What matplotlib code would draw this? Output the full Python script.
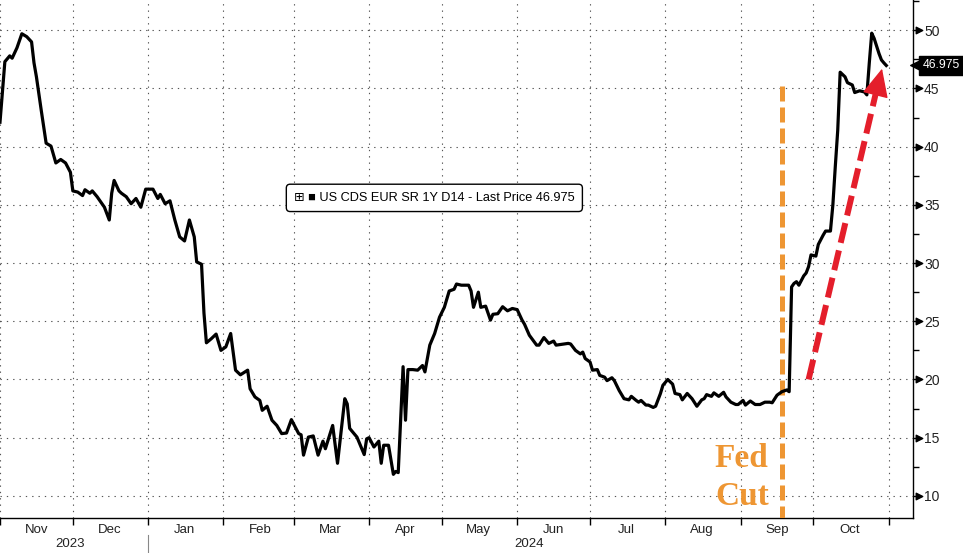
import pandas as pd
import matplotlib.pyplot as plt
import matplotlib.dates as mdates
import matplotlib.transforms as mtransforms
from matplotlib.ticker import MultipleLocator, NullFormatter

# US CDS EUR SR 1Y D14
dates = [
    "2023-11-01", "2023-11-03", "2023-11-05", "2023-11-06", "2023-11-08", "2023-11-10",
    "2023-11-12", "2023-11-14", "2023-11-15", "2023-11-16", "2023-11-18", "2023-11-20",
    "2023-11-22", "2023-11-24", "2023-11-26", "2023-11-28", "2023-11-30",
    "2023-12-01", "2023-12-03", "2023-12-05", "2023-12-06", "2023-12-08", "2023-12-09",
    "2023-12-11", "2023-12-14", "2023-12-16", "2023-12-17", "2023-12-18", "2023-12-20",
    "2023-12-21", "2023-12-23", "2023-12-25", "2023-12-27", "2023-12-29", "2023-12-31",
    "2024-01-03", "2024-01-05", "2024-01-06", "2024-01-08", "2024-01-10", "2024-01-12",
    "2024-01-14", "2024-01-16", "2024-01-18", "2024-01-20", "2024-01-21", "2024-01-23",
    "2024-01-24", "2024-01-25", "2024-01-27", "2024-01-29", "2024-01-31",
    "2024-02-02", "2024-02-04", "2024-02-06", "2024-02-08", "2024-02-11", "2024-02-12",
    "2024-02-14", "2024-02-16", "2024-02-17", "2024-02-19", "2024-02-21", "2024-02-23",
    "2024-02-25", "2024-02-27", "2024-02-29",
    "2024-03-03", "2024-03-04", "2024-03-05", "2024-03-07", "2024-03-09", "2024-03-11",
    "2024-03-13", "2024-03-14", "2024-03-17", "2024-03-19", "2024-03-22", "2024-03-23",
    "2024-03-24", "2024-03-27", "2024-03-30", "2024-03-31",
    "2024-04-01", "2024-04-03", "2024-04-05", "2024-04-06", "2024-04-07", "2024-04-09",
    "2024-04-11", "2024-04-12", "2024-04-13", "2024-04-15", "2024-04-16", "2024-04-17",
    "2024-04-19", "2024-04-21", "2024-04-23", "2024-04-24", "2024-04-26", "2024-04-28",
    "2024-04-30",
    "2024-05-02", "2024-05-04", "2024-05-06", "2024-05-07", "2024-05-09", "2024-05-12",
    "2024-05-13", "2024-05-14", "2024-05-16", "2024-05-17", "2024-05-19", "2024-05-21",
    "2024-05-22", "2024-05-24", "2024-05-26", "2024-05-28", "2024-05-30",
    "2024-06-01", "2024-06-03", "2024-06-04", "2024-06-06", "2024-06-09", "2024-06-10",
    "2024-06-12", "2024-06-14", "2024-06-16", "2024-06-17", "2024-06-22", "2024-06-23",
    "2024-06-25", "2024-06-27", "2024-06-28", "2024-06-29",
    "2024-07-01", "2024-07-02", "2024-07-04", "2024-07-05", "2024-07-07", "2024-07-08",
    "2024-07-10", "2024-07-11", "2024-07-13", "2024-07-15", "2024-07-17", "2024-07-18",
    "2024-07-20", "2024-07-21", "2024-07-22", "2024-07-24", "2024-07-25", "2024-07-27",
    "2024-07-28", "2024-07-30", "2024-07-31",
    "2024-08-02", "2024-08-04", "2024-08-05", "2024-08-07", "2024-08-08", "2024-08-10",
    "2024-08-12", "2024-08-14", "2024-08-16", "2024-08-17", "2024-08-18", "2024-08-20",
    "2024-08-21", "2024-08-23", "2024-08-25", "2024-08-26", "2024-08-28", "2024-08-30",
    "2024-08-31",
    "2024-09-02", "2024-09-03", "2024-09-05", "2024-09-07", "2024-09-09", "2024-09-11",
    "2024-09-13", "2024-09-14", "2024-09-16", "2024-09-18", "2024-09-20", "2024-09-21",
    "2024-09-22", "2024-09-23", "2024-09-24", "2024-09-25", "2024-09-27", "2024-09-28",
    "2024-09-29", "2024-09-30",
    "2024-10-02", "2024-10-03", "2024-10-05", "2024-10-06", "2024-10-08", "2024-10-09",
    "2024-10-10", "2024-10-11", "2024-10-12", "2024-10-14", "2024-10-15", "2024-10-17",
    "2024-10-18", "2024-10-20", "2024-10-22", "2024-10-23", "2024-10-24", "2024-10-25",
    "2024-10-26", "2024-10-28", "2024-10-29", "2024-10-30", "2024-10-31",
]
cds = [
    42.1, 47.3, 47.8, 47.6, 48.5, 49.7,
    49.45, 49.0, 47.2, 46.0, 43.1, 40.3,
    40.05, 38.6, 38.9, 38.6, 37.8,
    36.2, 36.1, 35.8, 36.3, 36.0, 36.2,
    35.7, 34.8, 33.7, 36.0, 37.1, 36.2,
    36.0, 35.7, 35.1, 35.55, 34.8, 36.35,
    36.35, 35.55, 35.9, 35.1, 35.35, 33.7,
    32.25, 31.9, 33.7, 32.25, 30.1, 29.9,
    25.7, 23.15, 23.5, 23.9, 22.5,
    22.8, 23.95, 20.8, 20.4, 20.8, 19.2,
    18.5, 18.2, 17.35, 17.7, 16.5, 16.05,
    15.35, 15.4, 16.55,
    15.35, 15.25, 13.5, 15.05, 15.15, 13.5,
    14.7, 14.05, 16.05, 12.8, 18.35, 17.9,
    15.8, 15.05, 13.55, 14.9,
    15.0, 14.2, 14.7, 12.8, 14.35, 14.35,
    11.85, 12.1, 12.0, 21.1, 16.5, 20.85,
    20.85, 20.8, 21.2, 20.65, 22.95, 23.95,
    25.35,
    26.2, 27.6, 27.75, 28.2, 28.1, 28.1,
    27.6, 26.2, 27.5, 26.2, 26.3, 25.1,
    25.6, 25.65, 26.25, 25.9, 26.1,
    26.0, 25.1, 24.75, 23.8, 22.95, 22.95,
    23.6, 23.1, 23.3, 22.95, 23.1, 23.05,
    22.5, 22.2, 22.35, 21.8,
    21.5, 20.8, 20.85, 20.35, 20.2, 19.9,
    20.15, 19.9, 19.05, 18.35, 18.25, 18.55,
    18.2, 18.05, 18.2, 17.8, 17.8, 17.6,
    17.7, 18.8, 19.5,
    20.0, 19.6, 18.8, 18.7, 18.25, 18.8,
    18.35, 17.7, 18.25, 18.35, 18.7, 18.55,
    18.85, 18.55, 18.9, 18.5, 18.05, 17.85,
    17.85,
    18.2, 17.8, 18.15, 17.85, 17.85, 18.05,
    18.05, 18.0, 18.65, 18.95, 19.1, 18.95,
    27.95, 28.25, 28.4, 28.1, 28.9, 29.15,
    29.7, 30.7,
    30.6, 31.6, 32.4, 32.75, 32.75, 35.0,
    38.3, 41.4, 46.4, 46.0, 45.5, 45.3,
    44.65, 44.8, 44.7, 44.45, 47.2, 49.75,
    49.3, 48.0, 47.45, 47.2, 46.975,
]
last_price = 46.975
fed_cut_date = "2024-09-18"
y_ticks = [10, 15, 20, 25, 30, 35, 40, 45, 50]

df = pd.DataFrame({"date": pd.to_datetime(dates), "cds": cds})

plt.rcParams['font.family'] = ['Liberation Sans', 'DejaVu Sans']

fig = plt.figure(figsize=(9.63, 5.53), dpi=100)
ax = fig.add_axes([0, 35 / 553, 913 / 963, 518 / 553])

ax.plot(df["date"], df["cds"], color="black", lw=2.3, solid_joinstyle="round", zorder=4)

ax.set_xlim(pd.Timestamp("2023-11-01"), pd.Timestamp("2024-11-11"))
ax.set_ylim(8.1, 52.6)

# grid + spines
for s in ["left", "top"]:
    ax.spines[s].set_visible(False)
ax.spines["right"].set_linewidth(1.0)
ax.spines["bottom"].set_linewidth(1.0)
ax.grid(True, which="major", color="#555555", lw=0.8, ls=(0, (1.2, 4.5)))

# x axis: month boundaries as ticks, month names centred mid-month
ax.xaxis.set_major_locator(mdates.MonthLocator())
ax.xaxis.set_major_formatter(NullFormatter())
ax.xaxis.set_minor_locator(mdates.MonthLocator(bymonthday=16))
ax.xaxis.set_minor_formatter(mdates.DateFormatter("%b"))
ax.tick_params(axis="x", which="major", direction="out", length=5, width=1, color="black")
ax.tick_params(axis="x", which="minor", length=0, pad=4, labelsize=9.5, labelcolor="#222222")

# y axis on the right
ax.yaxis.tick_right()
ax.set_yticks(y_ticks)
ax.yaxis.set_minor_locator(MultipleLocator(2.5))
ax.tick_params(axis="y", which="major", direction="out", length=6, width=1, pad=2,
               labelsize=10, labelcolor="#222222")
ax.tick_params(axis="y", which="minor", direction="out", length=4, width=1)
ytrans = mtransforms.blended_transform_factory(ax.transAxes, ax.transData)
ax.scatter([1.0065] * len(y_ticks), y_ticks, marker=">", s=22, color="black",
           transform=ytrans, clip_on=False, zorder=5)

# last price tag
ax.scatter([1.003], [last_price], marker="<", s=70, color="black",
           transform=ytrans, clip_on=False, zorder=5)
ax.text(1.011, last_price, f"{last_price:.3f}", transform=ytrans, ha="left", va="center",
        fontsize=8.8, color="white", clip_on=False, zorder=7,
        bbox=dict(boxstyle="square,pad=0.3", fc="black", ec="black"))

# year labels below months
xtrans = mtransforms.blended_transform_factory(ax.transData, ax.transAxes)
ax.text(pd.Timestamp("2023-11-30"), -0.038, "2023", transform=xtrans, ha="center",
        va="top", fontsize=9.5, color="#222222")
ax.text(pd.Timestamp("2024-06-06"), -0.038, "2024", transform=xtrans, ha="center",
        va="top", fontsize=9.5, color="#222222")
ax.plot([pd.Timestamp("2024-01-01")] * 2, [-0.033, -0.068], transform=xtrans,
        color="#888888", lw=0.8, clip_on=False)

# legend box
ax.text(0.322, 0.618, "\u229e \u25a0 US CDS EUR SR 1Y D14 - Last Price 46.975",
        transform=ax.transAxes, ha="left", va="center", fontsize=9.2, color="black",
        bbox=dict(boxstyle="round,pad=0.6,rounding_size=0.3", fc="white", ec="black", lw=1),
        zorder=6)

# Fed cut marker
fed = pd.Timestamp(fed_cut_date)
ax.plot([fed, fed], [45.2, 8.1], color="#EE9633", lw=3.6, dashes=(3, 1.2),
        solid_capstyle="butt", dash_capstyle="butt", zorder=3)
ax.text(pd.Timestamp("2024-09-01 12:00"), 12.5, "Fed", ha="center", va="baseline",
        fontsize=24, fontweight="bold", family="Liberation Serif", color="#EE9633")
ax.text(pd.Timestamp("2024-09-01 12:00"), 9.25, "Cut", ha="center", va="baseline",
        fontsize=24, fontweight="bold", family="Liberation Serif", color="#EE9633")

# red dashed arrow
red = "#E41E2B"
a_start = (mdates.date2num(pd.Timestamp("2024-09-29")), 20.0)
a_base = (mdates.date2num(pd.Timestamp("2024-10-26 14:00")), 44.5)
a_tip = (mdates.date2num(pd.Timestamp("2024-10-29 06:00")), 46.7)
ax.plot([a_start[0], a_base[0]], [a_start[1], a_base[1]], color=red, lw=4.3,
        dashes=(3.4, 1.3), dash_capstyle="butt", zorder=5)
ax.annotate("", xy=a_tip, xytext=a_base,
            arrowprops=dict(arrowstyle="-|>,head_length=0.9,head_width=0.42", color=red,
                            lw=1, mutation_scale=20, shrinkA=0, shrinkB=0), zorder=5)

fig.savefig("out.png", dpi=100)
